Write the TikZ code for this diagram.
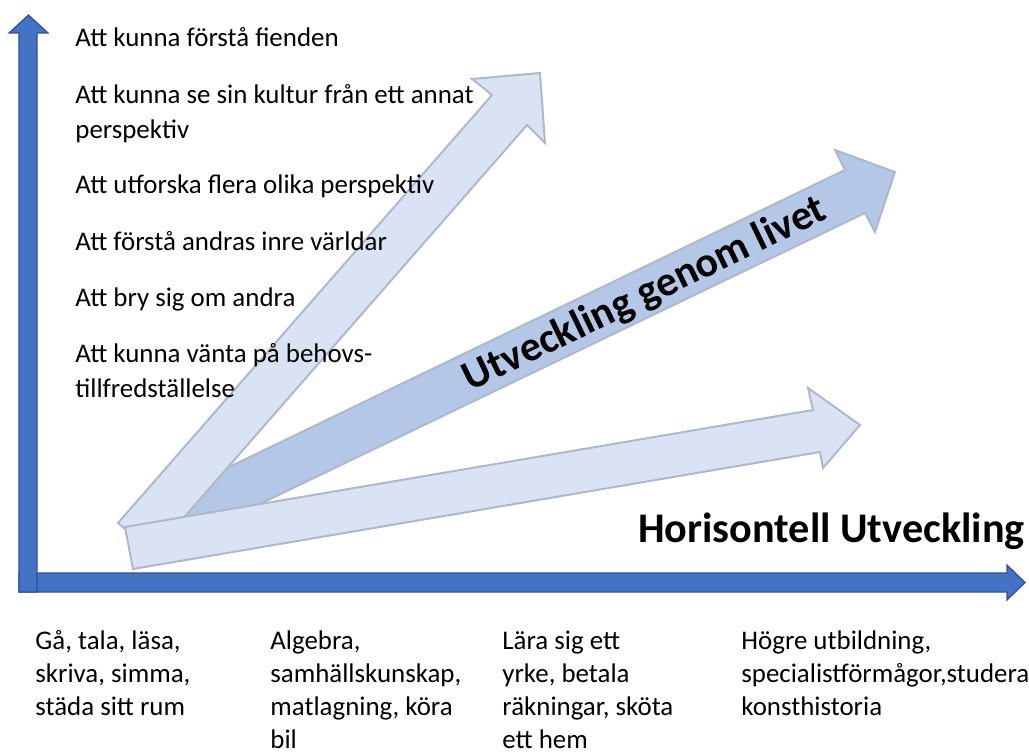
\documentclass[tikz,border=0pt]{standalone}
\usepackage{fontspec}
\setmainfont{Carlito}
\definecolor{axisblue}{HTML}{4472C4}
\definecolor{axisline}{HTML}{2F528F}
\definecolor{palefill}{HTML}{DAE3F3}
\definecolor{midfill}{HTML}{B4C7E7}
\definecolor{arrowline}{HTML}{ADB9CA}
\newcommand{\textrows}[1]{\begin{tabular}[t]{@{}l@{}}#1\end{tabular}}

\begin{document}
\begin{tikzpicture}[x=0.5pt, y=-0.5pt,
    axisarrow/.style={fill=axisblue, draw=axisline, line width=0.6pt, line join=miter},
    palearrow/.style={fill=palefill, draw=arrowline, line width=1pt, line join=miter},
    midarrow/.style={fill=midfill, draw=arrowline, line width=1pt, line join=miter},
    listtext/.style={anchor=base west, inner sep=0pt, font=\fontsize{13.45}{17.5}\selectfont},
    stagetext/.style={anchor=base west, inner sep=0pt, font=\fontsize{13.45}{16.5}\selectfont}]
\useasboundingbox (0,0) rectangle (1029,754);
% axes
\draw [axisarrow] (19,573) -- (1007,573) -- (1007,565) -- (1025,582.5) -- (1007,600) -- (1007,592) -- (19,592) -- cycle;
\draw [axisarrow] (19,592) -- (19,33) -- (9,33) -- (28.5,15) -- (48,33) -- (37,33) -- (37,592) -- cycle;
% middle arrow, under the two pale ones
\draw [midarrow] (140,510) -- (845,170) -- (835,150) -- (895,172) -- (875,232) -- (865,213) -- (160,552) -- cycle;
\draw [palearrow] (118,523) -- (492,95) -- (472,79) -- (540,73) -- (545,143) -- (527,125) -- (153,553) -- cycle;
\draw [palearrow] (125,527) -- (813,410) -- (808,388) -- (860,425) -- (823,468) -- (820,452) -- (133,569) -- cycle;
\node (life) [rotate=25.8, inner sep=0pt, font=\fontsize{21}{25}\bfseries] at (645,295) {Utveckling genom livet};
\node (horiz) [anchor=base east, inner sep=0pt, font=\fontsize{21.1}{26}\bfseries] at (1025,542) {Horisontell Utveckling};
% vertical list
\node (v1) [listtext] at (75,47) {Att kunna förstå fienden};
\node (v2) [listtext] at (75,104) {\textrows{Att kunna se sin kultur från ett annat\\perspektiv}};
\node (v3) [listtext] at (75,194) {Att utforska flera olika perspektiv};
\node (v4) [listtext] at (75,251) {Att förstå andras inre världar};
\node (v5) [listtext] at (75,307) {Att bry sig om andra};
\node (v6) [listtext] at (75,363) {\textrows{Att kunna vänta på behovs-\\tillfredställelse}};
% horizontal stages
\node (h1) [stagetext] at (35,649) {\textrows{Gå, tala, läsa,\\skriva, simma,\\städa sitt rum}};
\node (h2) [stagetext] at (270,649) {\textrows{Algebra,\\samhällskunskap,\\matlagning, köra\\bil}};
\node (h3) [stagetext] at (502,649) {\textrows{Lära sig ett\\yrke, betala\\räkningar, sköta\\ett hem}};
\node (h4) [stagetext] at (741,649) {\textrows{Högre utbildning,\\specialistförmågor,studera\\konsthistoria}};
\end{tikzpicture}
\end{document}
